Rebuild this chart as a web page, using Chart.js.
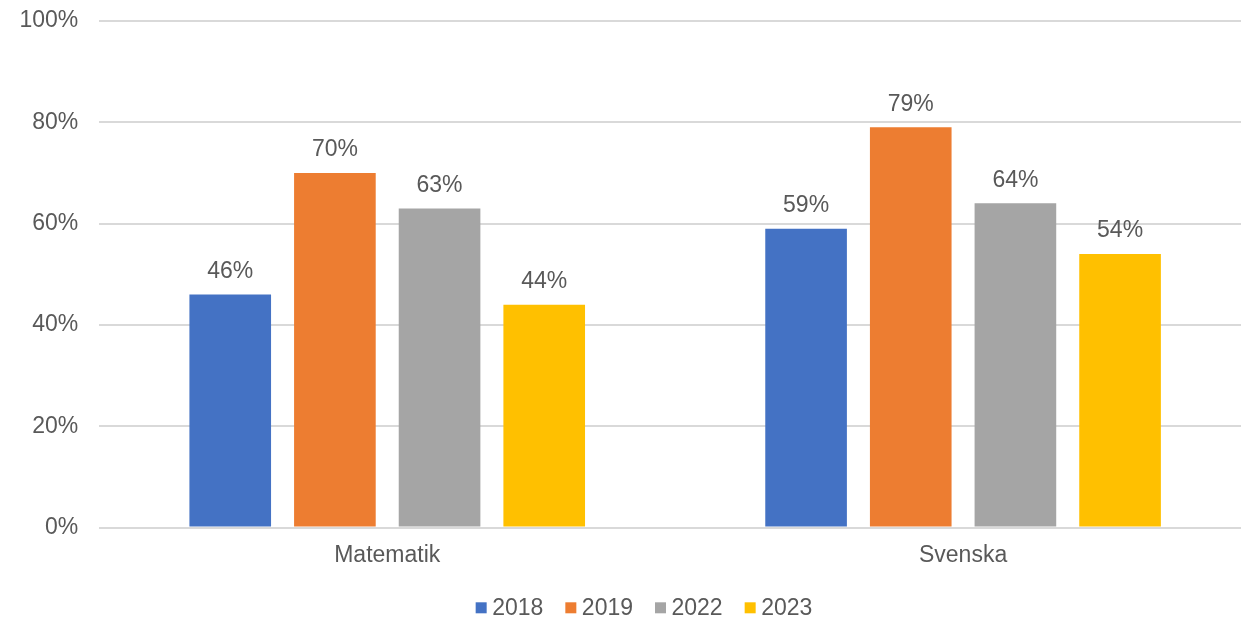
<!DOCTYPE html>
<html>
<head>
<meta charset="utf-8">
<script src="https://cdn.jsdelivr.net/npm/chart.js@4/dist/chart.umd.min.js"></script>
<style>
  html, body { margin: 0; padding: 0; background: #ffffff; overflow: hidden; }
  #wrap { width: 1260px; height: 620px; }
</style>
</head>
<body>
<div id="wrap"><canvas id="c" width="1260" height="620"></canvas></div>
<script>
const categories = ['Matematik', 'Svenska'];
const seriesLabels = ['2018', '2019', '2022', '2023'];
const values2018 = [46, 59];
const values2019 = [70, 79];
const values2022 = [63, 64];
const values2023 = [44, 54];
const yTicks = [0, 20, 40, 60, 80, 100];

const colors = ['#4472C4', '#ED7D31', '#A5A5A5', '#FFC000'];
const textColor = '#595959';
const FONT = '"Liberation Sans", Arial, sans-serif';
const FS = 23;

const seriesValues = [values2018, values2019, values2022, values2023];

const dataLabelPlugin = {
  id: 'dataLabels',
  afterDatasetsDraw(chart) {
    const ctx = chart.ctx;
    ctx.save();
    ctx.font = FS + 'px ' + FONT;
    ctx.fillStyle = textColor;
    ctx.textAlign = 'center';
    ctx.textBaseline = 'alphabetic';
    chart.data.datasets.forEach((ds, i) => {
      const meta = chart.getDatasetMeta(i);
      meta.data.forEach((bar, j) => {
        ctx.fillText(ds.data[j] + '%', bar.x, bar.y - 16.5);
      });
    });
    ctx.restore();
  }
};

const legendPlugin = {
  id: 'customLegend',
  afterDraw(chart) {
    const ctx = chart.ctx;
    ctx.save();
    ctx.font = FS + 'px ' + FONT;
    const box = 11, boxGap = 16.5, itemGap = 22;
    const items = chart.data.datasets.map(ds => ({ label: ds.label, color: ds.backgroundColor, w: ctx.measureText(ds.label).width }));
    let total = 0;
    items.forEach((it, i) => { total += boxGap + it.w + (i < items.length - 1 ? itemGap : 0); });
    const centerX = 644;
    let x = centerX - total / 2;
    const baseY = 615;
    items.forEach(it => {
      ctx.fillStyle = it.color;
      ctx.fillRect(x, 602.3, box, box);
      ctx.fillStyle = textColor;
      ctx.textAlign = 'left';
      ctx.textBaseline = 'alphabetic';
      ctx.fillText(it.label, x + boxGap, baseY);
      x += boxGap + it.w + itemGap;
    });
    ctx.restore();
  }
};

new Chart(document.getElementById('c'), {
  type: 'bar',
  data: {
    labels: categories,
    datasets: seriesLabels.map((lab, i) => ({
      label: lab,
      data: seriesValues[i],
      backgroundColor: colors[i],
      borderWidth: 0,
      categoryPercentage: 0.727,
      barPercentage: 0.78
    }))
  },
  options: {
    responsive: false,
    animation: false,
    devicePixelRatio: 1,
    layout: { padding: { top: 21, right: 9, bottom: 0, left: 0 } },
    plugins: {
      legend: { display: false },
      tooltip: { enabled: false }
    },
    scales: {
      x: {
        grid: { display: false, drawTicks: false },
        border: { display: false },
        ticks: {
          color: textColor,
          font: { family: FONT, size: FS },
          padding: 14,
          maxRotation: 0
        },
        afterFit(scale) {
          scale.height = 92.5;
          scale.paddingLeft = 0; scale.paddingRight = 0;
        }
      },
      y: {
        min: 0,
        max: 100,
        afterBuildTicks(scale) { scale.ticks = yTicks.map(v => ({ value: v })); },
        grid: { color: '#d9d9d9', lineWidth: 2, drawTicks: false },
        border: { display: false },
        ticks: {
          color: textColor,
          font: { family: FONT, size: FS },
          padding: 21,
          callback: v => v + '%'
        },
        afterFit(scale) {
          scale.width = 99.3;
          scale.paddingTop = 0; scale.paddingBottom = 0;
        }
      }
    }
  },
  plugins: [dataLabelPlugin, legendPlugin]
});
</script>
</body>
</html>
